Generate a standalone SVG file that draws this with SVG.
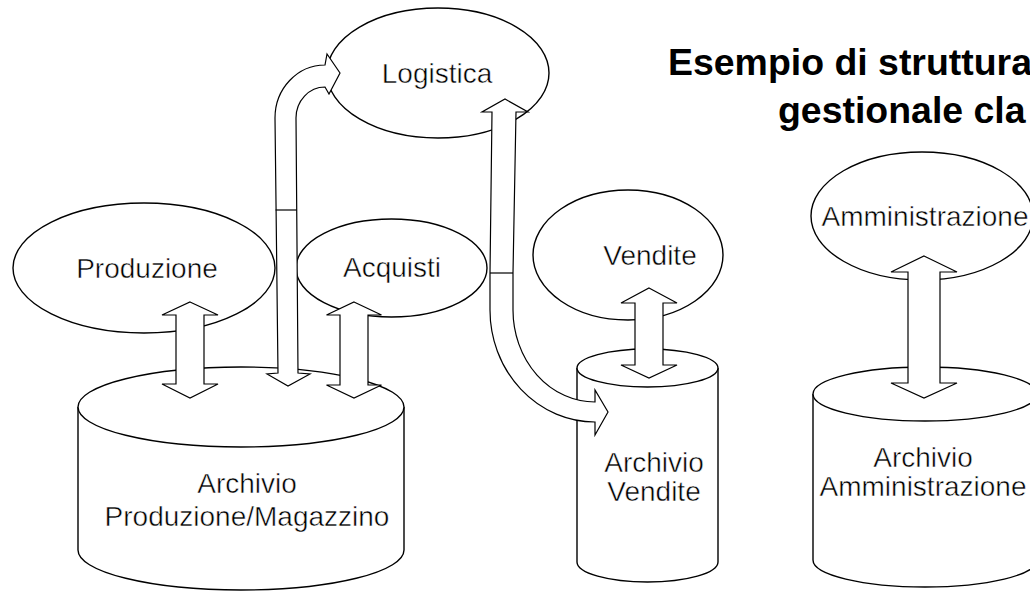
<svg xmlns="http://www.w3.org/2000/svg" width="1030" height="593" viewBox="0 0 1030 593">
<style>
.shape{fill:#fff;stroke:#000;stroke-width:1.4}
.arrow{fill:#fff;stroke:#000;stroke-width:1.2;stroke-linejoin:miter}
.seam{fill:none;stroke:#000;stroke-width:1.2}
.lbl{font-family:"Liberation Sans",Arial,sans-serif;font-size:28px;fill:#000;stroke:#fff;stroke-width:0.5;paint-order:normal;text-anchor:middle}
.title{font-family:"Liberation Sans",Arial,sans-serif;font-size:36px;font-weight:bold;fill:#000}
</style>
<rect width="1030" height="593" fill="#fff"/>
<g id="title">
<text class="title" transform="translate(668,75) scale(1.04,1)">Esempio di struttura</text>
<text class="title" transform="translate(778,123) scale(1.04,1)">gestionale cla</text>
</g>
<g id="logistica">
<ellipse class="shape" cx="438" cy="73" rx="111" ry="65"/>
<text class="lbl" x="437" y="83">Logistica</text>
</g>
<g id="produzione">
<ellipse class="shape" cx="144" cy="268" rx="131" ry="65"/>
<text class="lbl" x="147" y="278">Produzione</text>
</g>
<g id="acquisti">
<ellipse class="shape" cx="391.5" cy="268" rx="95.5" ry="49"/>
<text class="lbl" x="392" y="277">Acquisti</text>
</g>
<g id="vendite">
<ellipse class="shape" cx="628" cy="255" rx="95" ry="65"/>
<text class="lbl" x="650" y="265">Vendite</text>
</g>
<g id="amministrazione">
<ellipse class="shape" cx="922" cy="216" rx="111" ry="64"/>
<text class="lbl" x="925" y="226">Amministrazione</text>
</g>
<g id="archivio-produzione">
<path class="shape" d="M78,407 L78,550 A163,40 0 0 0 404,550 L404,407"/>
<ellipse class="shape" cx="241" cy="407" rx="163" ry="40"/>
<text class="lbl" x="247" y="493">Archivio</text>
<text class="lbl" x="247" y="526">Produzione/Magazzino</text>
</g>
<g id="archivio-vendite">
<path class="shape" d="M577,368 L577,562 A70.5,20 0 0 0 718,562 L718,368"/>
<ellipse class="shape" cx="647.5" cy="368" rx="70.5" ry="19"/>
<text class="lbl" x="654" y="472">Archivio</text>
<text class="lbl" x="654" y="501">Vendite</text>
</g>
<g id="archivio-amministrazione">
<path class="shape" d="M813,394 L813,560 A112,27 0 0 0 1037,560 L1037,394"/>
<ellipse class="shape" cx="925" cy="394" rx="112" ry="27"/>
<text class="lbl" x="923" y="467">Archivio</text>
<text class="lbl" x="923" y="496">Amministrazione</text>
</g>
<g id="connectors">
<path class="arrow" d="M190,302 L218,315 L204,315 L204,384 L218,384 L190,398 L162,384 L176,384 L176,315 L162,315 Z"/>
<path class="arrow" d="M354,302 L381.5,315 L368,315 L368,385 L381.5,385 L354,398 L326.5,385 L340,385 L340,315 L326.5,315 Z"/>
<path class="arrow" d="M649,288 L677,303 L663,303 L663,365 L677,365 L649,378 L621,365 L635,365 L635,303 L621,303 Z"/>
<path class="arrow" d="M924,256 L957,272 L940,272 L940,383 L957,383 L924,398 L891,383 L908,383 L908,272 L891,272 Z"/>
<path class="arrow" d="M278,373 L275,118 A50,53 0 0 1 325,65 L327,54 L340,73 L329,94 L325,87 A29,31 0 0 0 296,118 L298,373 L310,374 L288,386 L267,374 Z"/>
<path class="seam" d="M275.6,210 L296.8,210"/>
<path class="arrow" d="M490,273 L492,112 L482,112 L505,99 L528,112 L516,112 L513,273 L513,310 A82,92 0 0 0 595,402 L595,390 L608,412 L595,435 L595,422 A105,112 0 0 1 490,310 Z"/>
<path class="seam" d="M490,273 L513,273"/>
</g>
</svg>
